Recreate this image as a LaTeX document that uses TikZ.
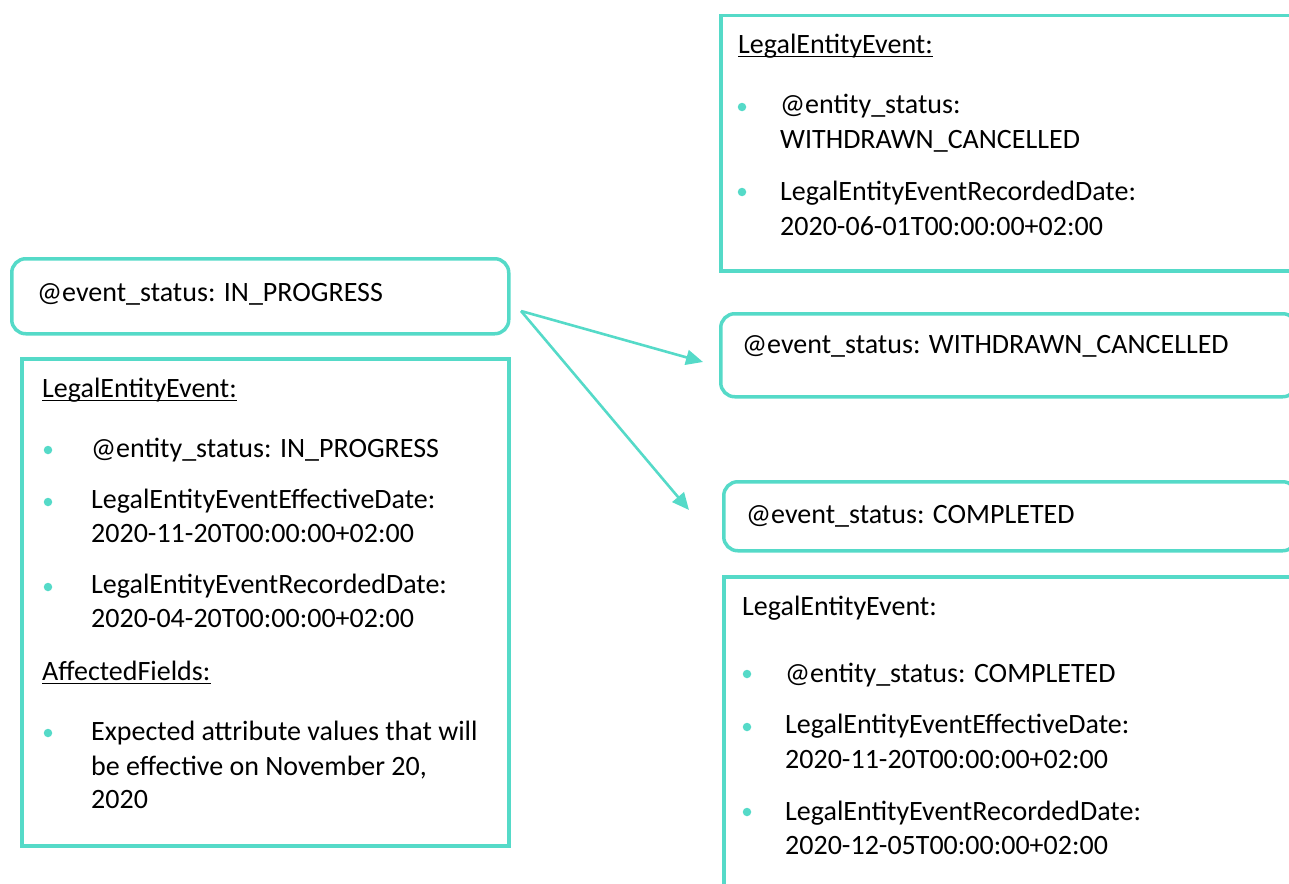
\documentclass[tikz,border=0pt]{standalone}
\usepackage{fontspec}
\setmainfont{Carlito}
\usetikzlibrary{arrows.meta}
\definecolor{teal1}{RGB}{85,218,200}
\tikzset{
  box/.style={draw=teal1, line width=3.5pt, anchor=north west, inner sep=0pt},
  rbox/.style={box, rounded corners=14pt},
  txt/.style={anchor=base west, inner sep=0pt, font=\fontsize{28}{35}\selectfont, text=black},
  dot/.style={fill=teal1, draw=none, circle, minimum size=8.5pt, inner sep=0pt},
  uline/.style={line width=1.6pt, black},
  arr/.style={draw=teal1, line width=2.6pt, -{Triangle[length=17pt,width=15pt]}}
}
\begin{document}
\begin{tikzpicture}[x=1pt,y=-1pt]
\useasboundingbox (0,0) rectangle (1289,883);
\clip (0,0) rectangle (1289,883);
% boxes
\node[rbox, minimum width=497pt, minimum height=75pt] (boxA) at (10,257) {};
\node[box, minimum width=487pt, minimum height=487pt] (boxB) at (20,357) {};
\node[box, minimum width=576pt, minimum height=255pt] (boxC) at (719,14) {};
\node[rbox, minimum width=576pt, minimum height=83pt] (boxD) at (719,312) {};
\node[rbox, minimum width=573pt, minimum height=69pt] (boxE) at (722,480) {};
\node[box, minimum width=573pt, minimum height=330pt] (boxF) at (722,575) {};
% box A
\node[txt] (a1) at (37,301) {@event\_status: IN\_PROGRESS};
% box B
\node[txt] (b0) at (42,397) {LegalEntityEvent:};
\draw[uline] ([yshift=-3.5pt]b0.base west) -- ([yshift=-3.5pt]b0.base east);
\node[dot] (bd1) at (48,450) {};
\node[txt] (b1) at (91,457) {@entity\_status: IN\_PROGRESS};
\node[dot] (bd2) at (48,502) {};
\node[txt] (b2) at (91,508) {LegalEntityEventEffectiveDate:};
\node[txt] (b3) at (91,542) {2020-11-20T00:00:00+02:00};
\node[dot] (bd3) at (48,587) {};
\node[txt] (b4) at (91,593) {LegalEntityEventRecordedDate:};
\node[txt] (b5) at (91,627) {2020-04-20T00:00:00+02:00};
\node[txt] (b6) at (42,680) {AffectedFields:};
\draw[uline] ([yshift=-3.5pt]b6.base west) -- ([yshift=-3.5pt]b6.base east);
\node[dot] (bd4) at (48,733) {};
\node[txt] (b7) at (91,740) {Expected attribute values that will};
\node[txt] (b8) at (91,775) {be effective on November 20,};
\node[txt] (b9) at (91,808) {2020};
% box C
\node[txt] (c0) at (738,53) {LegalEntityEvent:};
\draw[uline] ([yshift=-3.5pt]c0.base west) -- ([yshift=-3.5pt]c0.base east);
\node[dot] (cd1) at (742,107) {};
\node[txt] (c1) at (780,113) {@entity\_status:};
\node[txt] (c2) at (780,148) {WITHDRAWN\_CANCELLED};
\node[dot] (cd2) at (742,192) {};
\node[txt] (c3) at (780,200) {LegalEntityEventRecordedDate:};
\node[txt] (c4) at (780,235) {2020-06-01T00:00:00+02:00};
% box D
\node[txt] (d1) at (742,353) {@event\_status: WITHDRAWN\_CANCELLED};
% box E
\node[txt] (e1) at (746,523) {@event\_status: COMPLETED};
% box F
\node[txt] (f0) at (742,615) {LegalEntityEvent:};
\node[dot] (fd1) at (747,674) {};
\node[txt] (f1) at (785,682) {@entity\_status: COMPLETED};
\node[dot] (fd2) at (747,727) {};
\node[txt] (f2) at (785,733) {LegalEntityEventEffectiveDate:};
\node[txt] (f3) at (785,768) {2020-11-20T00:00:00+02:00};
\node[dot] (fd3) at (747,812) {};
\node[txt] (f4) at (785,820) {LegalEntityEventRecordedDate:};
\node[txt] (f5) at (785,854) {2020-12-05T00:00:00+02:00};
% arrows
\coordinate (s) at (521,311);
\coordinate (t1) at (703,362);
\coordinate (t2) at (689,510);
\draw[arr] (s) -- (t1);
\draw[arr] (s) -- (t2);
\end{tikzpicture}
\end{document}
